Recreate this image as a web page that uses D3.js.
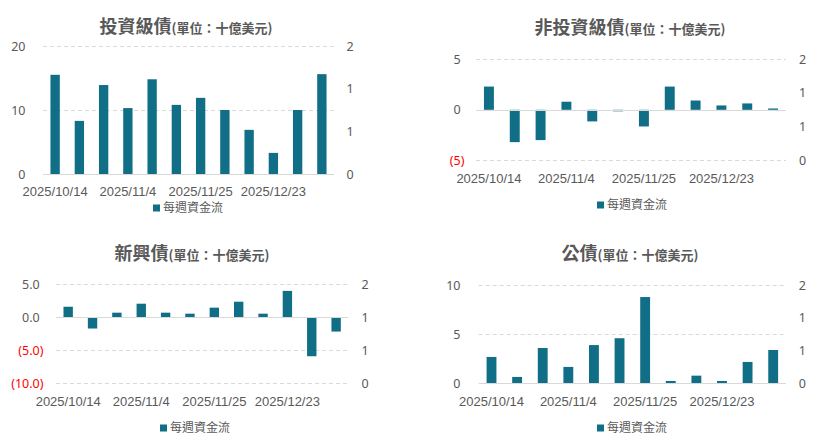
<!DOCTYPE html>
<html><head><meta charset="utf-8">
<script src="https://cdn.jsdelivr.net/npm/d3@7/dist/d3.min.js"></script>
<style>
body{margin:0;background:#fff;}
svg{display:block;}
text{font-family:"Noto Sans","Noto Sans CJK TC",sans-serif;fill:#595959;}
.cjk{font-family:"Noto Sans CJK TC","Noto Sans",sans-serif;}
</style></head>
<body>
<svg id="c" width="825" height="439"></svg>
<script>
// ---- data ----
const categories = ["2025/10/14","2025/10/21","2025/10/28","2025/11/4","2025/11/11","2025/11/18",
                    "2025/11/25","2025/12/2","2025/12/9","2025/12/23","2025/12/30","2026/1/6"];
const igFlows  = [15.5, 8.3, 13.9, 10.3, 14.8, 10.8, 11.9, 10.0, 6.9, 3.3, 10.0, 15.6];
const hyFlows  = [2.3, -3.2, -3.0, 0.8, -1.15, -0.15, -1.65, 2.3, 0.92, 0.43, 0.63, 0.13];
const emFlows  = [1.6, -1.7, 0.7, 2.06, 0.7, 0.55, 1.46, 2.36, 0.55, 4.0, -5.9, -2.16];
const govFlows = [2.69, 0.65, 3.6, 1.67, 3.9, 4.6, 8.8, 0.24, 0.78, 0.24, 2.18, 3.4];
const igTicks  = [0, 10, 20];
const hyTicks  = [-5, 0, 5];
const emTicks  = [-10, -5, 0, 5];
const govTicks = [0, 5, 10];
const rightTicks = [0, 0.667, 1.333, 2];
const titles = ["投資級債", "非投資級債", "新興債", "公債"];
const unitLabel = "(單位：十億美元)";
const legendLabel = "每週資金流";

// ---- layout ----
const panels = [
  {title:titles[0], values:igFlows,  ticks:igTicks,  decimals:0, x0:43,   x1:334, yTop:46,    yBot:174,   lblX:29.3, rX:346.5, titleX:186, titleY:33,  xLblY:191.5, legX:188, legY:208},
  {title:titles[1], values:hyFlows,  ticks:hyTicks,  decimals:0, x0:476,  x1:786, yTop:59.3,  yBot:160.3, lblX:464.5, rX:799, titleX:630, titleY:33.5, xLblY:178.5, legX:632, legY:205},
  {title:titles[2], values:emFlows,  ticks:emTicks,  decimals:1, x0:56,   x1:348.3, yTop:284.3, yBot:383.3, lblX:43.5, rX:361.5, titleX:192, titleY:260, xLblY:401.7, legX:195, legY:428},
  {title:titles[3], values:govFlows, ticks:govTicks, decimals:0, x0:478.7,x1:786, yTop:285.3, yBot:383.3, lblX:464.3, rX:798.7, titleX:630, titleY:260, xLblY:401.7, legX:632, legY:428}
];

const barColor = "#106e86";
const gridColor = "#d9d9d9";
const svg = d3.select("#c");

panels.forEach(p => {
  const g = svg.append("g");
  const x = d3.scaleBand().domain(categories).range([p.x0, p.x1]).paddingInner(0.615).paddingOuter(0.3075);
  const tmin = d3.min(p.ticks), tmax = d3.max(p.ticks);
  const y = d3.scaleLinear().domain([tmin, tmax]).range([p.yBot, p.yTop]);
  const yR = d3.scaleLinear().domain([0, 2]).range([p.yBot, p.yTop]);

  // gridlines
  g.selectAll(".grid").data(p.ticks.filter(t => t !== 0)).join("line")
    .attr("x1", p.x0).attr("x2", p.x1)
    .attr("y1", d => Math.round(y(d)) + 0.5).attr("y2", d => Math.round(y(d)) + 0.5)
    .attr("stroke", gridColor).attr("stroke-width", 1).attr("stroke-dasharray", "4,3");

  // bars
  g.selectAll(".bar").data(p.values).join("rect")
    .attr("x", (d,i) => x(categories[i]))
    .attr("width", x.bandwidth())
    .attr("y", d => y(Math.max(0, d)))
    .attr("height", d => Math.abs(y(d) - y(0)))
    .attr("fill", barColor);

  // zero line
  g.append("line").attr("x1", p.x0).attr("x2", p.x1)
    .attr("y1", Math.round(y(0)) + 0.5).attr("y2", Math.round(y(0)) + 0.5)
    .attr("stroke", gridColor).attr("stroke-width", 1.2);

  // left axis
  const fmt = d3.format("." + p.decimals + "f");
  const left = d3.axisLeft(y).tickValues(p.ticks).tickSize(0).tickPadding(0)
    .tickFormat(d => d < 0 ? "(" + fmt(-d) + ")" : fmt(d));
  const la = g.append("g").attr("transform", `translate(${p.lblX},0)`).call(left);
  la.select(".domain").remove();
  la.selectAll("text")
    .attr("x", d => d < 0 ? 0 : -3.8)
    .style("font-size", "12.5px").style("font-family", '"Noto Sans",sans-serif')
    .style("fill", d => d < 0 ? "#ff0000" : "#595959");

  // right axis
  const right = d3.axisRight(yR).tickValues(rightTicks).tickSize(0).tickPadding(0)
    .tickFormat(d3.format(".0f"));
  const ra = g.append("g").attr("transform", `translate(${p.rX},0)`).call(right);
  ra.select(".domain").remove();
  ra.selectAll("text").style("font-size", "12.5px").style("font-family", '"Noto Sans",sans-serif').style("fill", "#595959");

  // bottom axis
  const bottom = d3.axisBottom(x).tickValues(categories.filter((d,i) => i % 3 === 0)).tickSize(0).tickPadding(0);
  const ba = g.append("g").attr("transform", `translate(0,${p.xLblY})`).call(bottom);
  ba.select(".domain").remove();
  ba.selectAll("text").attr("y", 0).attr("dy", "0.35em")
    .style("font-size", "13px").style("font-family", '"Liberation Sans",Arial,sans-serif').style("fill", "#595959");

  // title
  const t = g.append("text").attr("class", "cjk").attr("x", p.titleX).attr("y", p.titleY)
    .attr("text-anchor", "middle");
  t.append("tspan").text(p.title).style("font-size", "18px").style("font-weight", "700");
  t.append("tspan").text(unitLabel).style("font-size", "13px").style("font-weight", "700");

  // legend
  const lg = g.append("g");
  const lt = lg.append("text").attr("class", "cjk").attr("y", p.legY).attr("dy", "0.35em")
    .style("font-size", "12px").text(legendLabel);
  const tw = lt.node().getComputedTextLength();
  const total = 7 + 3 + tw;
  const sx = p.legX - total / 2;
  lg.append("rect").attr("x", sx).attr("y", p.legY - 3.5).attr("width", 7).attr("height", 7).attr("fill", barColor);
  lt.attr("x", sx + 10);
});
</script>
</body></html>
